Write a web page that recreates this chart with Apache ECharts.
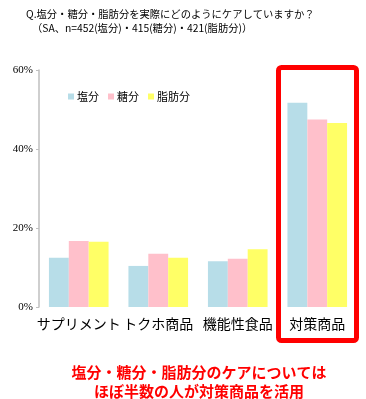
<!DOCTYPE html>
<html><head><meta charset="utf-8">
<script src="https://cdn.jsdelivr.net/npm/echarts@6/dist/echarts.min.js"></script>
<style>html,body{margin:0;padding:0;background:#fff}#c{width:366px;height:399px}</style>
</head><body><div id="c"></div>
<script>
const categories = ['サプリメント', 'トクホ商品', '機能性食品', '対策商品'];
const seriesNames = ['塩分', '糖分', '脂肪分'];
const salt = [12.5, 10.4, 11.6, 51.7];
const sugar = [16.7, 13.5, 12.2, 47.5];
const fat = [16.5, 12.5, 14.6, 46.6];
const yTicks = [0, 20, 40, 60];
const colors = ['#B7DDE8', '#FFC0CB', '#FFFF66'];

const chart = echarts.init(document.getElementById('c'), null, {renderer: 'canvas'});
const cjk = '"Noto Sans CJK JP", sans-serif';
chart.setOption({
  animation: false,
  backgroundColor: '#fff',
  title: [
    {text: 'Q.塩分・糖分・脂肪分を実際にどのようにケアしていますか？', left: 21, top: 4,
     textStyle: {fontSize: 10.3, fontWeight: 'normal', color: '#000', fontFamily: cjk}},
    {text: '（SA、n=452(塩分)・415(糖分)・421(脂肪分)）', left: 27, top: 18,
     textStyle: {fontSize: 10.3, fontWeight: 'normal', color: '#000', fontFamily: cjk}},
    {text: '塩分・糖分・脂肪分のケアについては\nほぼ半数の人が対策商品を活用', left: 194, top: 358, textAlign: 'center',
     textStyle: {fontSize: 15, fontWeight: 'bold', color: '#FF0000', fontFamily: cjk, lineHeight: 19, align: 'center'}}
  ],
  legend: {
    data: seriesNames, left: 63, top: 86, itemWidth: 6, itemHeight: 6, itemGap: 9,
    icon: 'rect',
    textStyle: {fontSize: 11, color: '#000', fontFamily: cjk, padding: [0, 0, 0, -2]}
  },
  grid: {left: 39, right: 9, top: 70, bottom: 92},
  xAxis: {
    type: 'category', data: categories,
    axisLine: {show: false}, axisTick: {show: false},
    axisLabel: {interval: 0, fontSize: 14, color: '#000', fontFamily: cjk, margin: 10}
  },
  yAxis: {
    type: 'value', min: 0, max: 60, interval: 20,
    axisLine: {show: true, lineStyle: {color: '#BFBFBF', width: 1.5}},
    axisTick: {show: true, length: 3, lineStyle: {color: '#BFBFBF'}},
    splitLine: {show: false},
    axisLabel: {fontSize: 11, color: '#000', fontFamily: '"Liberation Serif", serif', margin: 6,
      formatter: v => yTicks.includes(v) ? v + '%' : ''}
  },
  series: [salt, sugar, fat].map((d, i) => ({
    name: seriesNames[i], type: 'bar', data: d, barGap: '0%', barCategoryGap: '25%',
    itemStyle: {color: colors[i]}
  })),
  graphic: [{
    type: 'rect', shape: {x: 278.5, y: 67.5, width: 78, height: 273, r: 3},
    style: {fill: 'none', stroke: '#FF0000', lineWidth: 5}, z: 100
  }]
});
</script></body></html>
